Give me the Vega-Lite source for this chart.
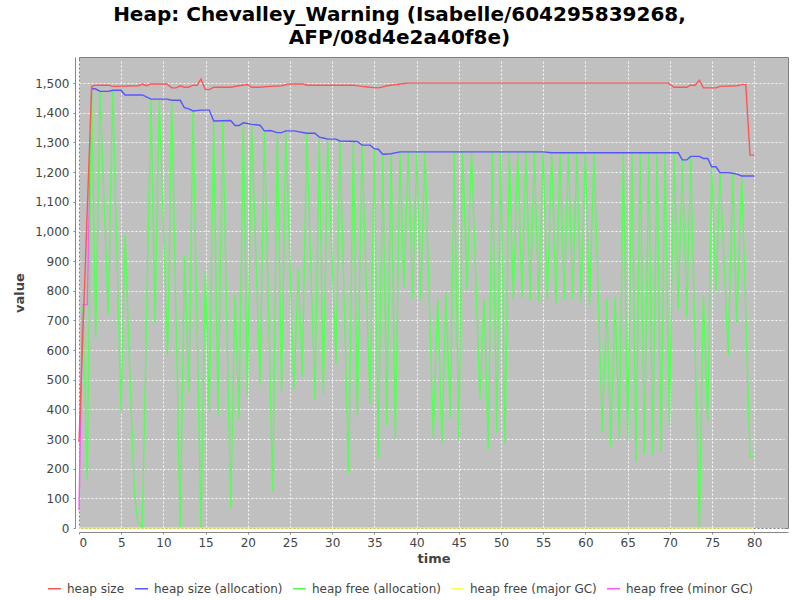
{
  "$schema": "https://vega.github.io/schema/vega-lite/v6.json",
  "width": 709,
  "height": 471,
  "autosize": "none",
  "padding": {"left": 79, "top": 57, "right": 12, "bottom": 72},
  "background": "white",
  "title": {
    "text": ["Heap: Chevalley_Warning (Isabelle/604295839268,", "AFP/08d4e2a40f8e)"],
    "fontSize": 20,
    "font": "DejaVu Sans",
    "fontWeight": "bold",
    "color": "#000000",
    "lineHeight": 23,
    "offset": 9,
    "dx": -34,
    "anchor": "middle"
  },
  "datasets": {
    "heap_size": [
      {"t": 0, "v": 290}, {"t": 1.5, "v": 1489}, {"t": 2.0, "v": 1493}, {"t": 3.47, "v": 1493},
      {"t": 4.0, "v": 1489}, {"t": 7.0, "v": 1491}, {"t": 7.5, "v": 1497}, {"t": 8.0, "v": 1491},
      {"t": 8.5, "v": 1497}, {"t": 10.4, "v": 1497}, {"t": 11.0, "v": 1484}, {"t": 11.5, "v": 1484},
      {"t": 12.0, "v": 1491}, {"t": 12.5, "v": 1486}, {"t": 13.0, "v": 1486}, {"t": 13.5, "v": 1493},
      {"t": 14.0, "v": 1493}, {"t": 14.45, "v": 1514}, {"t": 14.96, "v": 1478}, {"t": 15.44, "v": 1478},
      {"t": 15.96, "v": 1486}, {"t": 17.97, "v": 1486}, {"t": 18.96, "v": 1491}, {"t": 19.94, "v": 1495},
      {"t": 20.46, "v": 1486}, {"t": 21.45, "v": 1486}, {"t": 22.6, "v": 1489}, {"t": 24.0, "v": 1491},
      {"t": 24.9, "v": 1497}, {"t": 26.6, "v": 1497}, {"t": 27.0, "v": 1493}, {"t": 32.5, "v": 1493},
      {"t": 33.5, "v": 1489}, {"t": 34.5, "v": 1486}, {"t": 35.5, "v": 1484}, {"t": 36.5, "v": 1491},
      {"t": 38.0, "v": 1497}, {"t": 39.0, "v": 1500}, {"t": 69.8, "v": 1500}, {"t": 70.5, "v": 1486},
      {"t": 72.0, "v": 1486}, {"t": 72.47, "v": 1493}, {"t": 73.0, "v": 1493}, {"t": 73.5, "v": 1510},
      {"t": 73.97, "v": 1484}, {"t": 75.47, "v": 1484}, {"t": 75.95, "v": 1489}, {"t": 77.93, "v": 1491},
      {"t": 78.5, "v": 1495}, {"t": 79.0, "v": 1495}, {"t": 79.5, "v": 1257}, {"t": 80.0, "v": 1257}
    ],
    "heap_alloc": [
      {"t": 1.5, "v": 1482}, {"t": 1.98, "v": 1480}, {"t": 2.5, "v": 1472}, {"t": 3.47, "v": 1472},
      {"t": 4.0, "v": 1476}, {"t": 4.98, "v": 1476}, {"t": 5.45, "v": 1460}, {"t": 7.5, "v": 1460},
      {"t": 8.53, "v": 1446}, {"t": 10.4, "v": 1446}, {"t": 10.98, "v": 1442}, {"t": 12.0, "v": 1442},
      {"t": 12.48, "v": 1417}, {"t": 13.03, "v": 1413}, {"t": 13.5, "v": 1406}, {"t": 14.45, "v": 1409},
      {"t": 15.44, "v": 1409}, {"t": 15.96, "v": 1372}, {"t": 17.97, "v": 1374}, {"t": 18.48, "v": 1357},
      {"t": 18.96, "v": 1357}, {"t": 19.47, "v": 1366}, {"t": 19.94, "v": 1364}, {"t": 20.46, "v": 1361},
      {"t": 21.45, "v": 1358}, {"t": 21.96, "v": 1339}, {"t": 22.63, "v": 1340}, {"t": 23.5, "v": 1333},
      {"t": 24.0, "v": 1333}, {"t": 24.5, "v": 1339}, {"t": 25.47, "v": 1339}, {"t": 26.98, "v": 1331},
      {"t": 27.96, "v": 1331}, {"t": 28.47, "v": 1318}, {"t": 28.95, "v": 1315}, {"t": 29.47, "v": 1311},
      {"t": 30.45, "v": 1311}, {"t": 30.92, "v": 1305}, {"t": 32.98, "v": 1303}, {"t": 33.53, "v": 1291},
      {"t": 34.48, "v": 1291}, {"t": 34.99, "v": 1279}, {"t": 35.46, "v": 1277}, {"t": 35.98, "v": 1260},
      {"t": 36.97, "v": 1262}, {"t": 38.03, "v": 1268}, {"t": 55.0, "v": 1268}, {"t": 56.0, "v": 1265},
      {"t": 71.0, "v": 1265}, {"t": 71.48, "v": 1241}, {"t": 72.0, "v": 1241}, {"t": 72.47, "v": 1253},
      {"t": 73.5, "v": 1253}, {"t": 73.97, "v": 1246}, {"t": 74.49, "v": 1246}, {"t": 74.96, "v": 1218},
      {"t": 75.47, "v": 1218}, {"t": 75.95, "v": 1198}, {"t": 76.93, "v": 1198}, {"t": 77.45, "v": 1196},
      {"t": 77.93, "v": 1193}, {"t": 78.52, "v": 1187}, {"t": 80.0, "v": 1187}
    ],
    "free_alloc": [
      {"t": 0.45, "v": 753}, {"t": 0.98, "v": 162}, {"t": 1.5, "v": 1480}, {"t": 1.98, "v": 642},
      {"t": 2.49, "v": 1472}, {"t": 3.47, "v": 720}, {"t": 3.99, "v": 1476}, {"t": 4.98, "v": 390},
      {"t": 5.45, "v": 990}, {"t": 6.04, "v": 511}, {"t": 6.55, "v": 128}, {"t": 6.95, "v": 21},
      {"t": 7.5, "v": 2}, {"t": 8.53, "v": 1446}, {"t": 9.0, "v": 692}, {"t": 9.51, "v": 1446},
      {"t": 10.5, "v": 579}, {"t": 10.98, "v": 1442}, {"t": 12.0, "v": 2}, {"t": 12.5, "v": 917},
      {"t": 13.03, "v": 457}, {"t": 13.5, "v": 1406}, {"t": 14.45, "v": 2}, {"t": 14.96, "v": 866},
      {"t": 15.44, "v": 393}, {"t": 15.96, "v": 1372}, {"t": 16.47, "v": 376}, {"t": 17.03, "v": 1374},
      {"t": 17.97, "v": 66}, {"t": 18.48, "v": 787}, {"t": 18.96, "v": 370}, {"t": 19.47, "v": 1364},
      {"t": 19.94, "v": 441}, {"t": 20.46, "v": 1361}, {"t": 21.45, "v": 483}, {"t": 21.96, "v": 1339},
      {"t": 22.95, "v": 123}, {"t": 23.5, "v": 1333}, {"t": 24.0, "v": 457}, {"t": 24.5, "v": 1339},
      {"t": 25.47, "v": 466}, {"t": 25.98, "v": 874}, {"t": 26.46, "v": 511}, {"t": 26.98, "v": 1331},
      {"t": 27.96, "v": 432}, {"t": 28.47, "v": 1317}, {"t": 28.95, "v": 452}, {"t": 29.47, "v": 1311},
      {"t": 30.45, "v": 551}, {"t": 30.92, "v": 1305}, {"t": 31.95, "v": 185}, {"t": 32.5, "v": 1303},
      {"t": 32.98, "v": 376}, {"t": 33.53, "v": 1291}, {"t": 34.48, "v": 419}, {"t": 34.99, "v": 1279},
      {"t": 35.46, "v": 235}, {"t": 35.98, "v": 1260}, {"t": 36.46, "v": 346}, {"t": 36.97, "v": 1262},
      {"t": 37.48, "v": 303}, {"t": 38.03, "v": 1268}, {"t": 38.5, "v": 810}, {"t": 39.02, "v": 1268},
      {"t": 39.53, "v": 773}, {"t": 40.01, "v": 1268}, {"t": 40.48, "v": 768}, {"t": 40.99, "v": 1268},
      {"t": 41.98, "v": 303}, {"t": 42.5, "v": 776}, {"t": 43.0, "v": 286}, {"t": 43.48, "v": 793},
      {"t": 43.99, "v": 370}, {"t": 44.47, "v": 1268}, {"t": 44.99, "v": 297}, {"t": 45.46, "v": 1268},
      {"t": 45.97, "v": 804}, {"t": 46.5, "v": 1268}, {"t": 47.5, "v": 435}, {"t": 47.99, "v": 773},
      {"t": 48.5, "v": 264}, {"t": 48.97, "v": 1268}, {"t": 49.49, "v": 322}, {"t": 49.96, "v": 1268},
      {"t": 50.47, "v": 286}, {"t": 50.98, "v": 1268}, {"t": 51.46, "v": 768}, {"t": 51.98, "v": 1268},
      {"t": 52.49, "v": 776}, {"t": 52.96, "v": 1268}, {"t": 53.47, "v": 768}, {"t": 53.95, "v": 1268},
      {"t": 54.47, "v": 761}, {"t": 54.98, "v": 1268}, {"t": 55.49, "v": 768}, {"t": 56.0, "v": 1265},
      {"t": 56.52, "v": 756}, {"t": 56.99, "v": 1265}, {"t": 57.5, "v": 770}, {"t": 57.98, "v": 1265},
      {"t": 58.5, "v": 773}, {"t": 58.97, "v": 1265}, {"t": 59.48, "v": 761}, {"t": 59.99, "v": 1265},
      {"t": 60.5, "v": 750}, {"t": 61.02, "v": 1265}, {"t": 62.0, "v": 322}, {"t": 62.52, "v": 773},
      {"t": 63.0, "v": 275}, {"t": 63.5, "v": 779}, {"t": 64.02, "v": 300}, {"t": 64.49, "v": 1265},
      {"t": 65.01, "v": 297}, {"t": 65.52, "v": 1265}, {"t": 65.99, "v": 224}, {"t": 66.5, "v": 1265},
      {"t": 66.98, "v": 249}, {"t": 67.5, "v": 1265}, {"t": 67.97, "v": 247}, {"t": 68.48, "v": 1265},
      {"t": 68.96, "v": 258}, {"t": 69.43, "v": 1265}, {"t": 69.94, "v": 348}, {"t": 70.5, "v": 1265},
      {"t": 71.0, "v": 734}, {"t": 71.48, "v": 1241}, {"t": 72.0, "v": 708}, {"t": 72.47, "v": 1253},
      {"t": 73.5, "v": 2}, {"t": 73.97, "v": 784}, {"t": 74.49, "v": 356}, {"t": 74.96, "v": 1218},
      {"t": 75.47, "v": 798}, {"t": 75.95, "v": 1198}, {"t": 76.93, "v": 581}, {"t": 77.45, "v": 1196},
      {"t": 77.93, "v": 692}, {"t": 78.52, "v": 1187}, {"t": 79.5, "v": 241}, {"t": 80.0, "v": 241}
    ],
    "free_major": [
      {"t": 0, "v": 0}, {"t": 80.0, "v": 0}
    ],
    "free_minor": [
      {"t": 0, "v": 60}, {"t": 0.43, "v": 753}, {"t": 0.98, "v": 753}, {"t": 1.5, "v": 1485}
    ]
  },
  "encoding": {
    "x": {
      "field": "t",
      "type": "quantitative",
      "title": "time",
      "scale": {"domain": [0, 84], "nice": false, "zero": false},
      "axis": {"values": [0, 5, 10, 15, 20, 25, 30, 35, 40, 45, 50, 55, 60, 65, 70, 75, 80]}
    },
    "y": {
      "field": "v",
      "type": "quantitative",
      "title": "value",
      "scale": {"domain": [0, 1588], "nice": false},
      "axis": {
        "values": [0, 100, 200, 300, 400, 500, 600, 700, 800, 900, 1000, 1100, 1200, 1300, 1400, 1500],
        "format": ",d"
      }
    }
  },
  "layer": [
    {
      "data": {"name": "free_minor"},
      "mark": {"type": "line", "strokeWidth": 1.4},
      "encoding": {"color": {"datum": "heap free (minor GC)"}}
    },
    {
      "data": {"name": "free_major"},
      "mark": {"type": "line", "strokeWidth": 1},
      "encoding": {"color": {"datum": "heap free (major GC)"}}
    },
    {
      "data": {"name": "free_alloc"},
      "mark": {"type": "line", "strokeWidth": 1.4},
      "encoding": {"color": {"datum": "heap free (allocation)"}}
    },
    {
      "data": {"name": "heap_alloc"},
      "mark": {"type": "line", "strokeWidth": 1.4},
      "encoding": {"color": {"datum": "heap size (allocation)"}}
    },
    {
      "data": {"name": "heap_size"},
      "mark": {"type": "line", "strokeWidth": 1.4},
      "encoding": {
        "color": {
          "datum": "heap size",
          "scale": {
            "domain": ["heap size", "heap size (allocation)", "heap free (allocation)", "heap free (major GC)", "heap free (minor GC)"],
            "range": ["#FF5555", "#5555FF", "#55FF55", "#FFFF55", "#FF55FF"]
          },
          "legend": {
            "title": null,
            "orient": "none",
            "direction": "horizontal",
            "columns": 5,
            "legendX": -32,
            "legendY": 524
          }
        }
      }
    }
  ],
  "config": {
    "font": "DejaVu Sans",
    "view": {"fill": "#C0C0C0", "stroke": "#808080", "strokeWidth": 1},
    "axis": {
      "gridColor": "#FFFFFF",
      "gridDash": [2, 2],
      "gridWidth": 1,
      "gridOpacity": 0.9,
      "domainColor": "#888888",
      "tickColor": "#888888",
      "tickSize": 2,
      "offset": 4,
      "labelFontSize": 12,
      "labelColor": "#444444",
      "labelFont": "DejaVu Sans",
      "titleFont": "DejaVu Sans",
      "titleFontSize": 13,
      "titleFontWeight": "bold",
      "titleColor": "#444444"
    },
    "axisX": {"labelPadding": 3, "titlePadding": 4},
    "axisY": {"labelPadding": 4, "titlePadding": 8},
    "legend": {
      "symbolType": "stroke",
      "symbolSize": 169,
      "symbolStrokeWidth": 1.5,
      "labelFontSize": 12,
      "labelColor": "#444444",
      "labelFont": "DejaVu Sans",
      "labelOffset": 5,
      "columnPadding": 7,
      "padding": 0
    }
  }
}
